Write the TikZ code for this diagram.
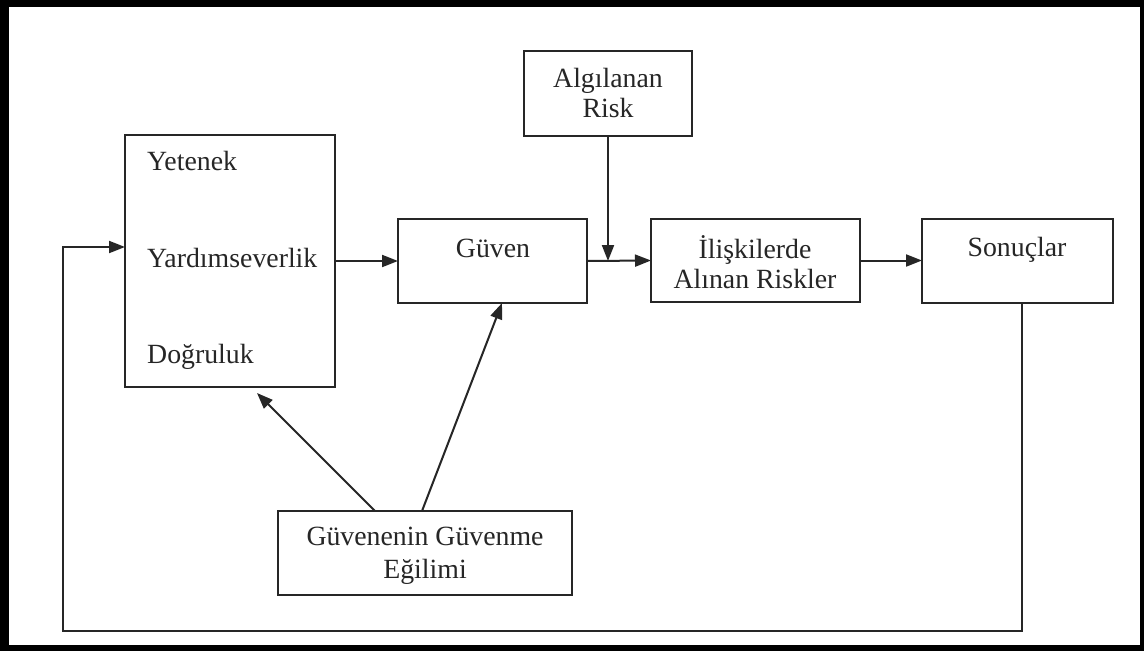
\documentclass[tikz,border=0pt]{standalone}
\usepackage{fontspec}
\setmainfont{Liberation Serif}
\usetikzlibrary{arrows.meta}
\begin{document}
\begin{tikzpicture}[x=1pt,y=-1pt,
  box/.style={draw=black!85,line width=2pt,inner sep=0pt,outer sep=0pt,fill=white},
  lbl/.style={inner sep=0pt,text=black!85,font=\fontsize{27.8}{31}\selectfont,anchor=base},
  lblw/.style={lbl,anchor=base west},
  arr/.style={draw=black!85,line width=2pt,-{Triangle[length=16pt,width=12pt]}}]
  % page frame
  \fill[black] (0,0) rectangle (1144,651);
  \fill[white] (9,7) rectangle (1140,645);
  \useasboundingbox (0,0) rectangle (1144,651);

  % boxes
  \node[box,minimum width=210pt,minimum height=252pt] (qual)   at (230,261) {};
  \node[box,minimum width=189pt,minimum height=84pt]  (guven)  at (492.5,261) {};
  \node[box,minimum width=168pt,minimum height=85pt]  (algi)   at (608,93.5) {};
  \node[box,minimum width=209pt,minimum height=83pt]  (iliski) at (755.5,260.5) {};
  \node[box,minimum width=191pt,minimum height=84pt]  (sonuc)  at (1017.5,261) {};
  \node[box,minimum width=294pt,minimum height=84pt]  (egilim) at (425,553) {};

  % texts
  \node[lblw] (t1) at (147,170) {Yetenek};
  \node[lblw] (t2) at (147,267) {Yardımseverlik};
  \node[lblw] (t3) at (147,363) {Doğruluk};
  \node[lbl] (t4) at (493,257) {Güven};
  \node[lbl] (t5) at (608,87) {Algılanan};
  \node[lbl] (t6) at (608,117) {Risk};
  \node[lbl] (t7) at (755,258) {İlişkilerde};
  \node[lbl] (t8) at (755,288) {Alınan Riskler};
  \node[lbl] (t9) at (1017,256) {Sonuçlar};
  \node[lbl] (t10) at (425,545) {Güvenenin Güvenme};
  \node[lbl] (t11) at (425,578) {Eğilimi};

  % connectors
  \draw[arr] (qual.east |- guven.west) -- (guven.west);
  \draw[arr] (guven.east) -- (iliski.west);
  \draw[arr] (algi.south) -- (algi.south |- guven.east);
  \draw[arr] (iliski.east) -- (sonuc.west |- iliski.east);
  \draw[arr] ([xshift=-50pt]egilim.north) -- ([shift={(27pt,-6pt)}]qual.south);
  \draw[arr] ([xshift=-3pt]egilim.north) -- ([xshift=9.5pt]guven.south);

  % feedback loop
  \coordinate (fbR) at (1022,631);
  \coordinate (fbL) at (63,631);
  \coordinate (fbIn) at (63,247);
  \draw[arr] (sonuc.south -| fbR) -- (fbR) -- (fbL) -- (fbIn) -- (qual.west |- fbIn);
\end{tikzpicture}
\end{document}
